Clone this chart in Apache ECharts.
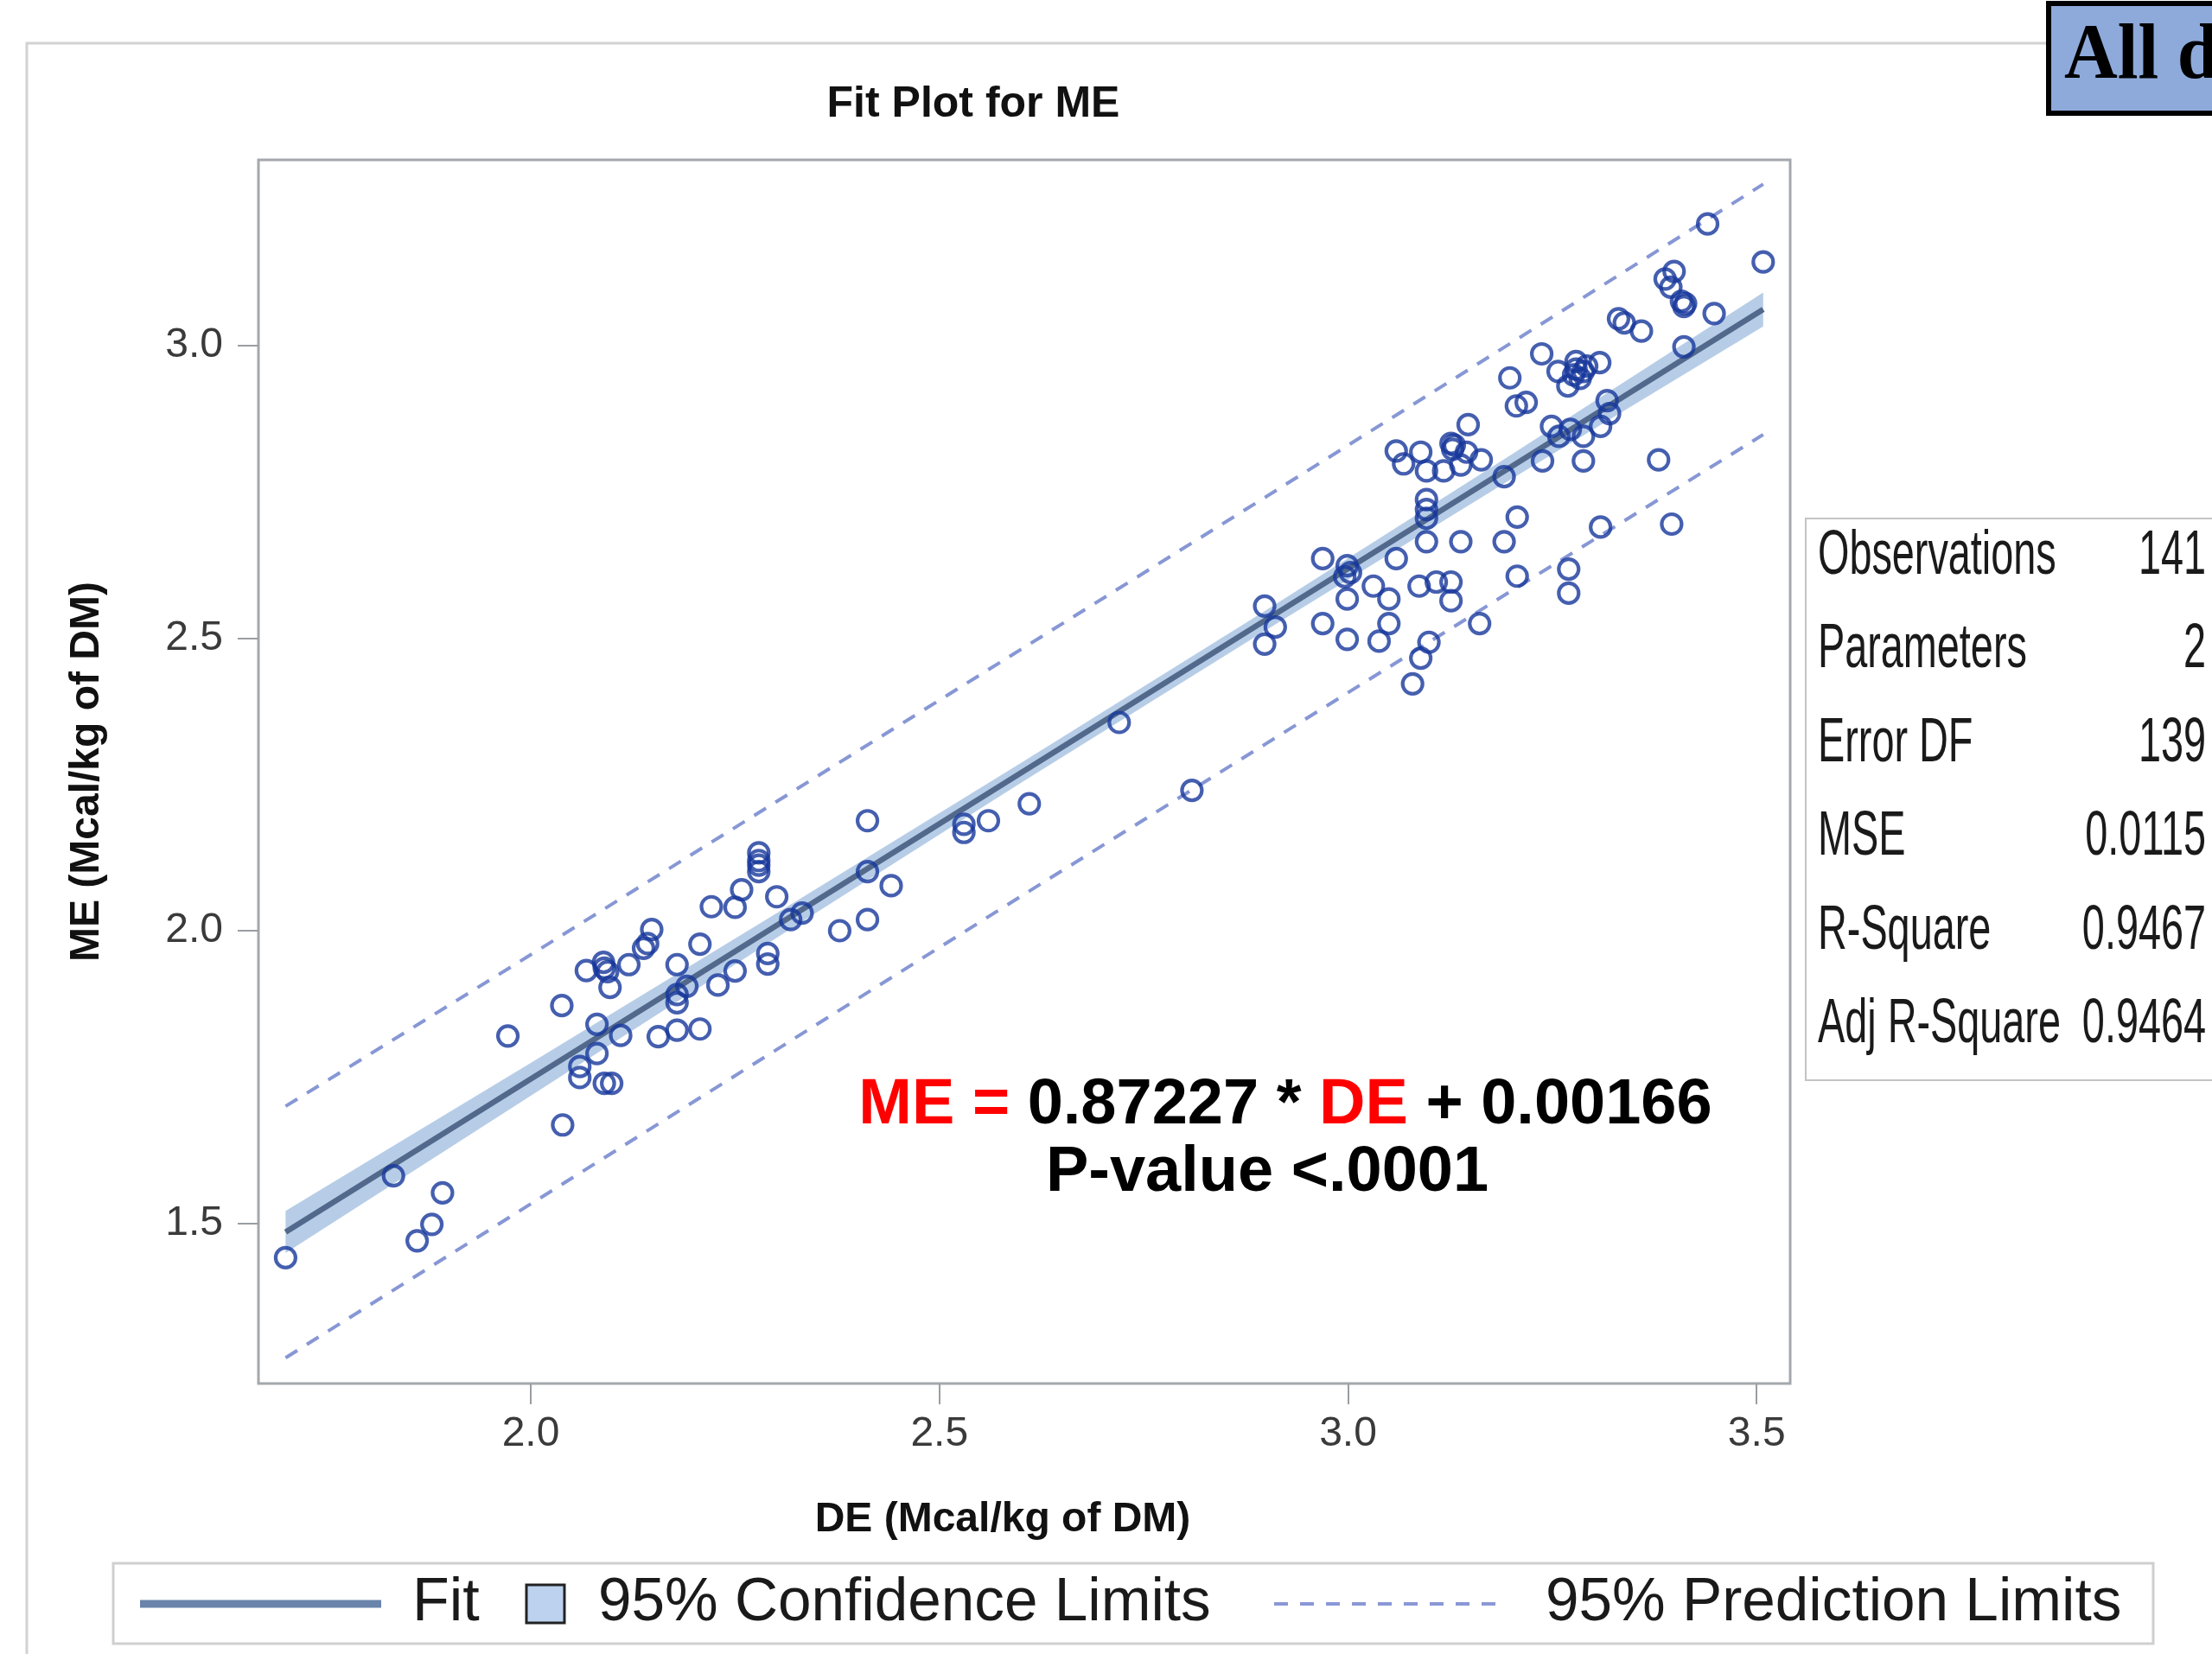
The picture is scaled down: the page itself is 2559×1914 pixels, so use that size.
<!DOCTYPE html>
<html><head><meta charset="utf-8">
<script src="https://cdn.jsdelivr.net/npm/echarts@6/dist/echarts.min.js"></script>
<style>html,body{margin:0;padding:0;background:#fff;} #chart{width:2559px;height:1914px;}</style>
</head><body><div id="chart"></div>
<script>
// ---- data ----
const lowDE = [1.700,1.832,1.861,1.879,1.892,1.972,2.038,2.039,2.060,2.060,
2.068,2.081,2.081,2.089,2.090,2.097,2.090,2.099,2.110,2.120,
2.138,2.143,2.148,2.156,2.179,2.179,2.179,2.179,2.191,2.207,
2.207,2.221,2.229,2.250,2.250,2.258,2.279,2.279,2.279,2.290,
2.290,2.301,2.318,2.332,2.378,2.412,2.412,2.412,2.441,2.530,
2.530,2.560,2.610,2.720,2.809,2.279,2.094];
const lowME = [1.441,1.581,1.470,1.498,1.552,1.820,1.872,1.668,1.768,1.749,
1.932,1.840,1.790,1.946,1.936,1.903,1.739,1.739,1.821,1.942,
1.970,1.978,2.002,1.819,1.942,1.891,1.877,1.830,1.905,1.832,
1.977,2.041,1.907,2.040,1.931,2.070,2.133,2.120,2.101,1.961,
1.943,2.058,2.019,2.030,2.000,2.188,2.101,2.019,2.077,2.182,
2.168,2.188,2.217,2.356,2.240,2.112,1.930];
const highDE = [3.440,3.508,3.388,3.399,3.395,3.408,3.411,3.448,3.411,3.331,
3.338,3.359,3.237,3.198,3.206,3.218,3.257,3.279,3.288,3.276,
3.284,3.269,3.308,3.317,3.320,3.309,3.147,3.059,3.068,3.089,
3.096,3.117,3.126,3.128,3.138,3.145,3.163,3.191,3.238,3.249,
3.258,3.272,3.288,3.288,3.380,3.096,3.096,3.096,3.059,3.138,
3.191,3.207,3.309,3.396,3.031,3.050,3.050,3.038,3.087,3.108,
3.126,3.126,3.207,3.270,3.270,3.161,3.099,3.089,3.079,2.969,
2.999,2.999,2.969,2.999,2.898,2.911,2.898,3.003,2.996,3.279,
3.292,3.130,3.413,3.096];
const highME = [3.208,3.143,3.114,3.127,3.100,3.076,3.067,3.055,2.998,3.046,
3.039,3.025,2.986,2.945,2.897,2.903,2.956,2.973,2.956,2.950,
2.944,2.931,2.971,2.906,2.884,2.862,2.865,2.820,2.798,2.818,
2.786,2.786,2.833,2.823,2.796,2.818,2.805,2.776,2.803,2.862,
2.845,2.857,2.845,2.803,2.805,2.737,2.705,2.665,2.636,2.665,
2.665,2.707,2.690,2.695,2.589,2.567,2.525,2.495,2.589,2.596,
2.596,2.564,2.606,2.618,2.577,2.525,2.493,2.466,2.422,2.636,
2.624,2.567,2.525,2.498,2.555,2.519,2.490,2.612,2.605,2.960,
2.965,2.830,3.072,2.720];

const fitX = [1.700, 3.508];
const fitY = [1.485, 3.062];
const bandX      = [1.70, 2.0, 2.3, 2.6, 2.9, 3.2, 3.508];
const confLower  = [1.449, 1.718, 1.987, 2.253, 2.514, 2.772, 3.033];
const confUpper  = [1.521, 1.774, 2.029, 2.287, 2.548, 2.814, 3.091];
const predLower  = [1.270, 1.533, 1.796, 2.059, 2.320, 2.581, 2.848];
const predUpper  = [1.700, 1.959, 2.220, 2.481, 2.742, 3.005, 3.276];
const xTicks = [2.0, 2.5, 3.0, 3.5];
const yTicks = [1.5, 2.0, 2.5, 3.0];
const statLabels = ['Observations','Parameters','Error DF','MSE','R-Square','Adj R-Square'];
const statValues = ['141','2','139','0.0115','0.9467','0.9464'];

// ---- chart ----
const FONT = '"Liberation Sans", Arial, sans-serif';
const chart = echarts.init(document.getElementById('chart'), null, {renderer:'canvas'});
const points = lowDE.map((x,i)=>[x, lowME[i]]).concat(highDE.map((x,i)=>[x, highME[i]]));

const statGraphics = [];
statLabels.forEach((lab, i) => {
  const cy = 644 + i * 108.5;
  statGraphics.push({type:'text', x:2103, y:cy, scaleX:0.65, z:20,
    style:{text:lab, fill:'#1a1a1a', font:'72px ' + FONT, align:'left', verticalAlign:'middle', textAlign:'left', textVerticalAlign:'middle'}});
  statGraphics.push({type:'text', x:2552, y:cy, scaleX:0.65, z:20,
    style:{text:statValues[i], fill:'#1a1a1a', font:'72px ' + FONT, align:'right', verticalAlign:'middle', textAlign:'right', textVerticalAlign:'middle'}});
});

const option = {
  animation: false,
  backgroundColor: '#ffffff',
  grid: {left:299, top:185, width:1772, height:1416, show:true, borderColor:'#a4a8ac', borderWidth:3, backgroundColor:'#ffffff'},
  xAxis: {
    type:'value', min:1.6668, max:3.541,
    name:'DE (Mcal/kg of DM)', nameLocation:'middle', nameGap:134,
    nameTextStyle:{fontFamily:FONT, fontWeight:'bold', fontSize:48, color:'#111', padding:[0,50,0,0]},
    axisLine:{show:false, onZero:false}, splitLine:{show:false},
    axisTick:{show:true, length:24, customValues:xTicks, lineStyle:{color:'#9a9ea2', width:2}},
    axisLabel:{customValues:xTicks, formatter:v=>Number(v).toFixed(1), margin:35, fontFamily:FONT, fontSize:48, color:'#3a3a3a'}
  },
  yAxis: {
    type:'value', min:1.226, max:3.3176,
    name:'ME (Mcal/kg of DM)', nameLocation:'middle', nameRotate:90, nameGap:174,
    nameTextStyle:{fontFamily:FONT, fontWeight:'bold', fontSize:48, color:'#111'},
    axisLine:{show:false, onZero:false}, splitLine:{show:false},
    axisTick:{show:true, length:24, customValues:yTicks, lineStyle:{color:'#9a9ea2', width:2}},
    axisLabel:{customValues:yTicks, formatter:v=>Number(v).toFixed(1), margin:41, fontFamily:FONT, fontSize:48, color:'#3a3a3a'}
  },
  series: [
    {
      type:'custom', name:'95% Confidence Limits', silent:true, z:1,
      data:[[bandX[0], confLower[0]]],
      renderItem:(params, api) => {
        const pts = [];
        for (let i=0;i<bandX.length;i++) pts.push(api.coord([bandX[i], confUpper[i]]));
        for (let i=bandX.length-1;i>=0;i--) pts.push(api.coord([bandX[i], confLower[i]]));
        return {type:'polygon', shape:{points:pts}, style:{fill:'#b7cde7'}};
      }
    },
    {type:'line', name:'Fit', data:fitX.map((x,i)=>[x, fitY[i]]), showSymbol:false, silent:true, z:3,
      lineStyle:{color:'#52698c', width:6.5}},
    {type:'line', name:'95% Prediction Limits', data:bandX.map((x,i)=>[x, predUpper[i]]), showSymbol:false, silent:true, z:2,
      lineStyle:{color:'#8797d5', width:4, type:[16,13]}},
    {type:'line', name:'95% Prediction Limits (lower)', data:bandX.map((x,i)=>[x, predLower[i]]), showSymbol:false, silent:true, z:2,
      lineStyle:{color:'#8797d5', width:4, type:[16,13]}},
    {type:'scatter', name:'ME', data:points, symbol:'circle', symbolSize:23, z:5,
      itemStyle:{color:'rgba(255,255,255,0)', borderColor:'#17379b', borderWidth:4.2}}
  ],
  graphic: [
    // outer frame
    {type:'rect', shape:{x:31, y:50, width:2700, height:2000}, style:{fill:'none', stroke:'#d2d2d2', lineWidth:3}, z:0, silent:true},
    // title
    {type:'text', x:1126, y:121, z:10, style:{text:'Fit Plot for ME', fill:'#111', font:'bold 50px ' + FONT, align:'center', verticalAlign:'middle', textAlign:'center', textVerticalAlign:'middle'}},
    // equation
    {type:'text', x:1487, y:1280, z:10, style:{
      text:'{r|ME =} {k|0.87227 *} {r|DE} {k|+ 0.00166}',
      fill:'#000', font:'bold 74px ' + FONT, align:'center', verticalAlign:'middle', textAlign:'center', textVerticalAlign:'middle',
      rich:{
        r:{fill:'#ff0000', fontSize:74, fontWeight:'bold', fontFamily:FONT},
        k:{fill:'#000000', fontSize:74, fontWeight:'bold', fontFamily:FONT}
      }}},
    {type:'text', x:1466, y:1358, z:10, style:{text:'P-value <.0001', fill:'#000', font:'bold 74px ' + FONT, align:'center', verticalAlign:'middle', textAlign:'center', textVerticalAlign:'middle'}},
    // stats table box
    {type:'rect', shape:{x:2089, y:600, width:600, height:650}, style:{fill:'#ffffff', stroke:'#c4c4c4', lineWidth:2}, z:15, silent:true},
    ...statGraphics,
    // "All data" box
    {type:'rect', shape:{x:2370, y:4, width:400, height:127}, style:{fill:'#8eaadb', stroke:'#000000', lineWidth:6}, z:20, silent:true},
    {type:'text', x:2388, y:66, z:21, scaleX:0.93, style:{text:'All data', fill:'#000', font:'bold 92px "Liberation Serif", "Times New Roman", serif', align:'left', verticalAlign:'middle', textAlign:'left', textVerticalAlign:'middle'}},
    // legend
    {type:'rect', shape:{x:131, y:1809, width:2360, height:93}, style:{fill:'#ffffff', stroke:'#cfcfcf', lineWidth:3}, z:10, silent:true},
    {type:'line', shape:{x1:162, y1:1856, x2:441, y2:1856}, style:{stroke:'#6a84ab', lineWidth:9}, z:11},
    {type:'text', x:477, y:1856, z:11, style:{text:'Fit', fill:'#1a1a1a', font:'70px ' + FONT, align:'left', verticalAlign:'middle', textAlign:'left', textVerticalAlign:'middle'}},
    {type:'rect', shape:{x:609, y:1834, width:44, height:44}, style:{fill:'#bcd2ee', stroke:'#222222', lineWidth:3}, z:11},
    {type:'text', x:692, y:1856, z:11, scaleX:0.99, style:{text:'95% Confidence Limits', fill:'#1a1a1a', font:'70px ' + FONT, align:'left', verticalAlign:'middle', textAlign:'left', textVerticalAlign:'middle'}},
    {type:'line', shape:{x1:1474, y1:1856, x2:1734, y2:1856}, style:{stroke:'#8a98d6', lineWidth:4, lineDash:[16,14]}, z:11},
    {type:'text', x:1788, y:1856, z:11, scaleX:0.99, style:{text:'95% Prediction Limits', fill:'#1a1a1a', font:'70px ' + FONT, align:'left', verticalAlign:'middle', textAlign:'left', textVerticalAlign:'middle'}}
  ]
};
chart.setOption(option);
</script>
</body></html>
